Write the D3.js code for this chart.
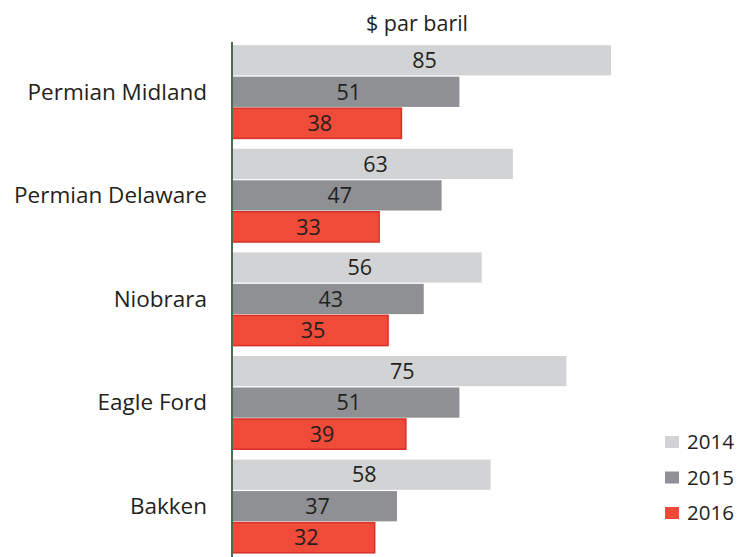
<!DOCTYPE html>
<html lang="fr">
<head>
    <meta charset="UTF-8">
    <title>$ par baril</title>
    <style>
        body { margin: 0; background: #fff; }
        text { font-family: "Open Sans", sans-serif; fill: #231f20; }
        .cat-label { font-size: 22.5px; }
        .val-label { font-size: 21.5px; }
        .legend text { font-size: 20.5px; }
        .title { font-size: 21.5px; }
    </style>
</head>
<body>
    <svg width="742" height="557"></svg>

    <script src="https://d3js.org/d3.v7.min.js"></script>
    <script>

        // Data
        const basins = ['Permian Midland', 'Permian Delaware', 'Niobrara', 'Eagle Ford', 'Bakken'];
        const years = ['2014', '2015', '2016'];
        const values2014 = [85, 63, 56, 75, 58];
        const values2015 = [51, 47, 43, 51, 37];
        const values2016 = [38, 33, 35, 39, 32];

        const series = { '2014': values2014, '2015': values2015, '2016': values2016 };

        const colors = { '2014': '#d2d3d4', '2015': '#8e9093', '2016': '#f04a38' };
        const strokes = { '2014': 'none', '2015': 'none', '2016': '#d6322a' };

        const svg = d3.select('svg');

        const xLeft = 232;
        const xScale = d3.scaleLinear()
            .domain([0, 85])
            .range([xLeft, 611]);

        const yGroup = d3.scaleBand()
            .domain(basins)
            .range([40, 558])
            .paddingInner(0.1)
            .paddingOuter(0.05);

        const yBar = d3.scaleBand()
            .domain(years)
            .range([0, yGroup.bandwidth()])
            .paddingInner(0.04);

        // title
        svg.append('text')
            .attr('class', 'title')
            .attr('x', 417)
            .attr('y', 31)
            .attr('text-anchor', 'middle')
            .text('$ par baril');

        const groups = svg.selectAll('g.basin')
            .data(basins)
            .enter()
            .append('g')
            .attr('class', 'basin')
            .attr('transform', function (d) {
                return 'translate(0 ' + yGroup(d) + ')';
            });

        groups.append('text')
            .attr('class', 'cat-label')
            .attr('x', 207)
            .attr('y', yGroup.bandwidth() / 2)
            .attr('dy', '0.35em')
            .attr('text-anchor', 'end')
            .text(function (d) { return d; });

        years.forEach(function (yr) {
            groups.append('rect')
                .attr('x', xLeft)
                .attr('y', yBar(yr))
                .attr('width', function (d, i) { return xScale(series[yr][i]) - xLeft; })
                .attr('height', yBar.bandwidth())
                .attr('fill', colors[yr])
                .attr('stroke', strokes[yr])
                .attr('stroke-width', 1.5);

            groups.append('text')
                .attr('class', 'val-label')
                .attr('x', function (d, i) { return (xLeft + xScale(series[yr][i])) / 2 + 3; })
                .attr('y', yBar(yr) + yBar.bandwidth() / 2)
                .attr('dy', '0.36em')
                .attr('text-anchor', 'middle')
                .text(function (d, i) { return series[yr][i]; });
        });

        // vertical axis line
        svg.append('line')
            .attr('x1', xLeft)
            .attr('x2', xLeft)
            .attr('y1', 42)
            .attr('y2', 557)
            .attr('stroke', '#4d6b50')
            .attr('stroke-width', 2);

        // legend
        const legend = svg.append('g')
            .attr('class', 'legend')
            .attr('transform', 'translate(665 442)');

        const items = legend.selectAll('g')
            .data(years)
            .enter()
            .append('g')
            .attr('transform', function (d, i) { return 'translate(0 ' + (i * 35.5) + ')'; });

        items.append('rect')
            .attr('x', 0)
            .attr('y', -6)
            .attr('width', 14)
            .attr('height', 12)
            .attr('fill', function (d) { return colors[d]; });

        items.append('text')
            .attr('x', 22)
            .attr('dy', '0.35em')
            .text(function (d) { return d; });

    </script>
</body>
</html>
